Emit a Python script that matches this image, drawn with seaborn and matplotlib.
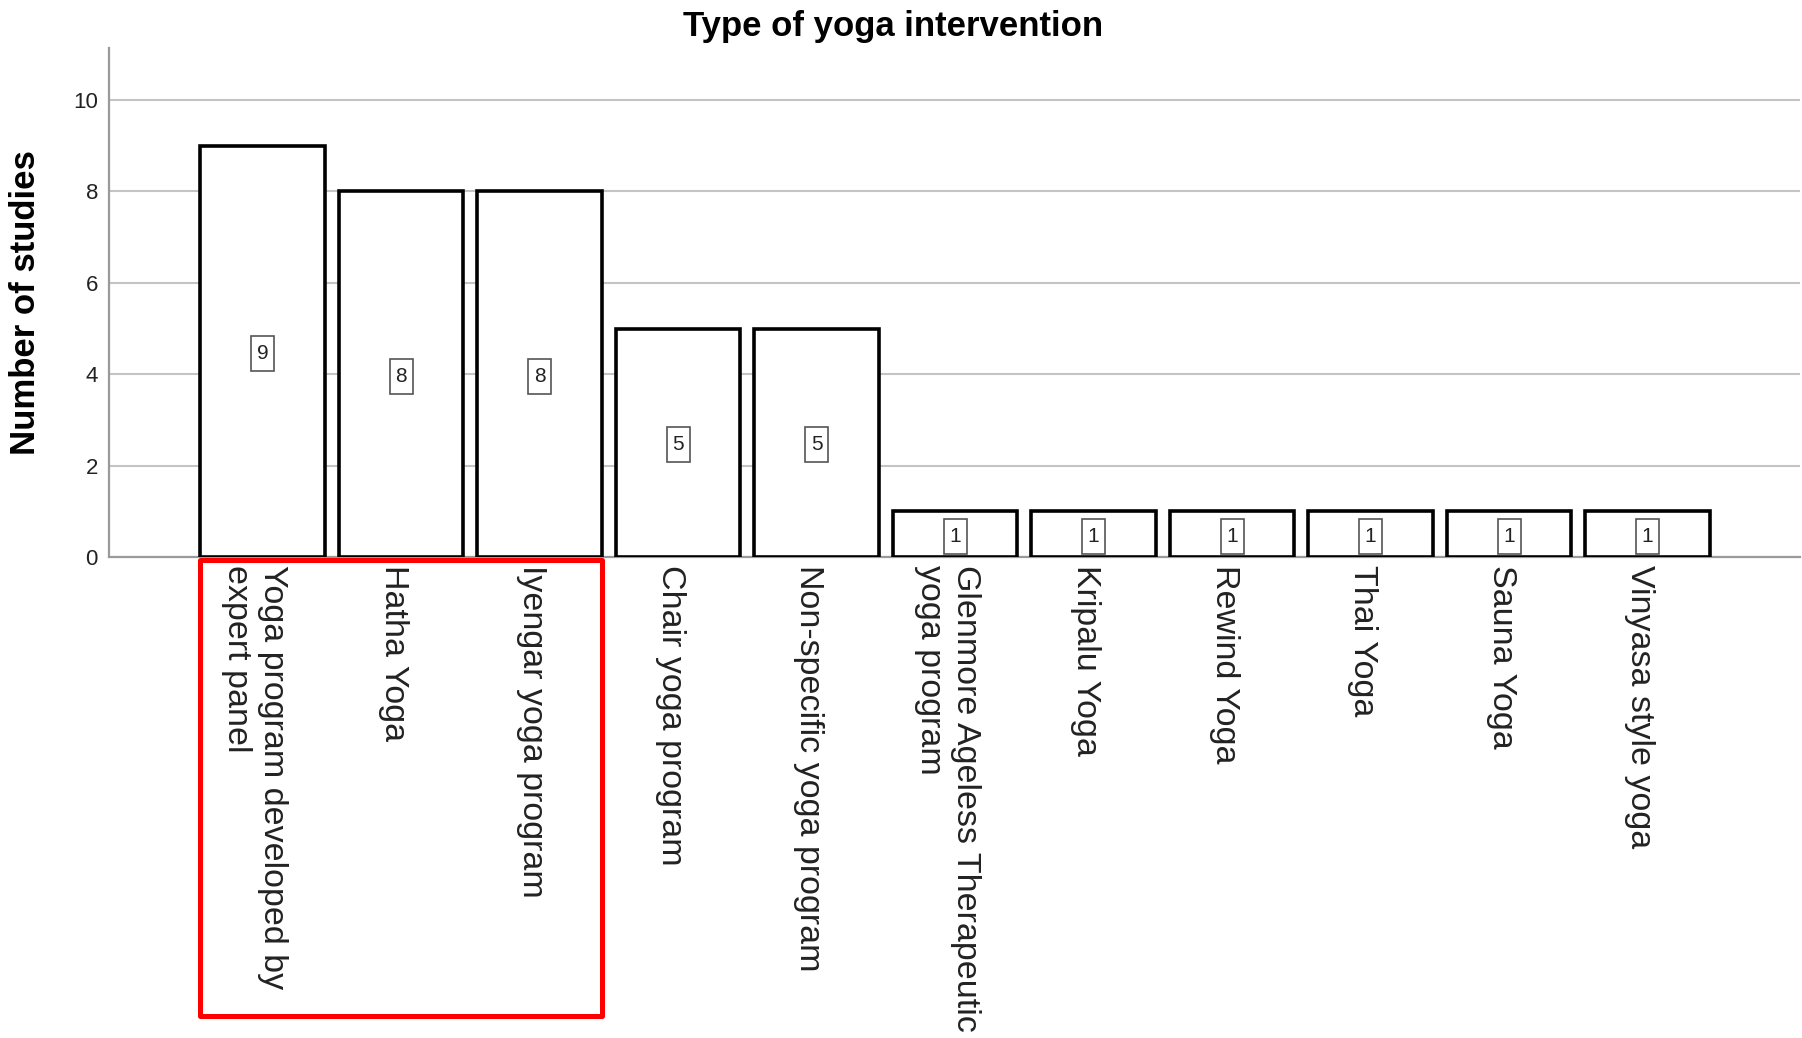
import matplotlib
matplotlib.use("Agg")
import matplotlib.pyplot as plt
import matplotlib.patches as mpatches
import matplotlib.transforms as mtransforms
import seaborn as sns
import pandas as pd

categories = [
    "Yoga program developed by\nexpert panel",
    "Hatha Yoga",
    "Iyengar yoga program",
    "Chair yoga program",
    "Non-specific yoga program",
    "Glenmore Ageless Therapeutic\nyoga program",
    "Kripalu Yoga",
    "Rewind Yoga",
    "Thai Yoga",
    "Sauna Yoga",
    "Vinyasa style yoga",
]
counts = [9, 8, 8, 5, 5, 1, 1, 1, 1, 1, 1]
yticks = [0, 2, 4, 6, 8, 10]
highlight_first, highlight_last = 0, 2

title = "Type of yoga intervention"
ylabel = "Number of studies"

sns.set_theme(style="white")
plt.rcParams["font.family"] = ["Liberation Sans", "DejaVu Sans"]

df = pd.DataFrame({"type": categories, "n": counts})

fig = plt.figure(figsize=(18.02, 10.38), dpi=100)
ax = fig.add_axes([0.0605, 0.4634, 0.9384, 0.4904])

bar_w = 0.9
sns.barplot(data=df, x="type", y="n", color="white", saturation=1,
            edgecolor="black", linewidth=2.6, width=bar_w, ax=ax, zorder=3)

ax.set_xlim(-1.109, 11.1)
ax.set_ylim(0, 11.14)
ax.set_yticks(yticks)
ax.set_yticklabels([str(t) for t in yticks], fontsize=16, color="#222222")
ax.set_xticks(range(len(categories)))
ax.set_xticklabels(categories, rotation=-90, ha="center", va="top",
                   multialignment="left", fontsize=24.5, color="#222222")
ax.tick_params(axis="both", length=0)
ax.tick_params(axis="y", pad=8)
ax.tick_params(axis="x", pad=6)
shift = mtransforms.ScaledTranslation(-8 / 100, 0, fig.dpi_scale_trans)
for lbl in ax.get_xticklabels():
    lbl.set_transform(lbl.get_transform() + shift)

ax.set_axisbelow(True)
ax.yaxis.grid(True, color="#c4c4c4", linewidth=1.5)
ax.xaxis.grid(False)
for s in ["top", "right"]:
    ax.spines[s].set_visible(False)
for s in ["left", "bottom"]:
    ax.spines[s].set_color("#9a9a9a")
    ax.spines[s].set_linewidth(1.6)

ax.set_xlabel("")
ax.set_ylabel(ylabel, fontsize=25, fontweight="bold", color="black")
ax.yaxis.set_label_coords(-0.0396, 0.5)

box_shift = mtransforms.ScaledTranslation(0, -2 / 100, fig.dpi_scale_trans)
for i, v in enumerate(counts):
    ax.text(i, v / 2, str(v), ha="center", va="center", fontsize=15,
            color="#222222", zorder=5, transform=ax.transData + box_shift,
            bbox=dict(boxstyle="square,pad=0.27", mutation_aspect=1.4,
                      fc="white", ec="#555555", lw=1.2))

fig.text(893 / 1802, 1 - 36 / 1038, title, ha="center", va="baseline",
         fontsize=25, fontweight="bold", color="black")

trans = mtransforms.blended_transform_factory(ax.transData, ax.transAxes)
x0 = highlight_first - bar_w / 2
x1 = highlight_last + bar_w / 2
rect = mpatches.Rectangle((x0, -0.902), x1 - x0, 0.896, transform=trans,
                          fill=False, edgecolor="#ff0000", linewidth=3.6,
                          clip_on=False, joinstyle="round", zorder=10)
ax.add_patch(rect)

fig.savefig("out.png", dpi=100, facecolor="white")
